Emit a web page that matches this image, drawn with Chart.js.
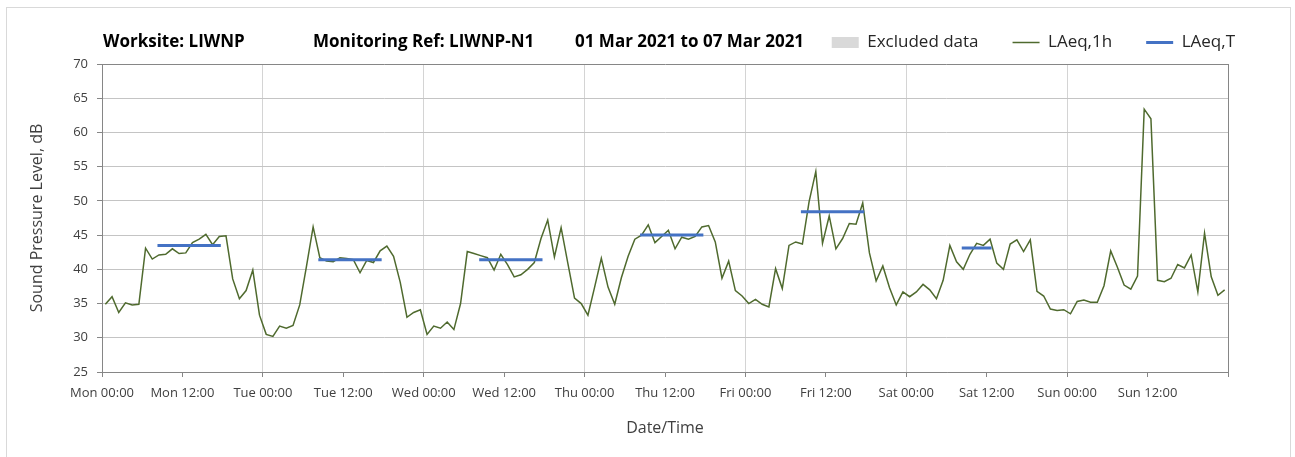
<!doctype html>
<html lang="en">
<head>
<meta charset="utf-8">
<title>LIWNP-N1 Sound Pressure Level</title>
<style>
  * { margin: 0; padding: 0; }
  body { background: #fff; font-family: "Open Sans", sans-serif; }
  .chartBox { position: relative; width: 1295px; height: 457px; overflow: hidden; }
  .frame { position: absolute; left: 6px; top: 7px; width: 1283px; height: 470px; border: 1px solid #d9d9d9; }
  .head { position: absolute; top: 30px; font-weight: bold; font-size: 17px; line-height: 22px; color: #000; white-space: nowrap; }
  canvas { position: absolute; left: 0; top: 0; }
</style>
</head>
<body>
<div class="chartBox">
  <div class="frame"></div>
  <canvas id="myChart" width="1295" height="457"></canvas>
  <div class="head" style="left:103px">Worksite: LIWNP</div>
  <div class="head" style="left:313px">Monitoring Ref: LIWNP-N1</div>
  <div class="head" style="left:575px">01 Mar 2021 to 07 Mar 2021</div>
</div>
<script src="https://cdn.jsdelivr.net/npm/chart.js/dist/chart.umd.min.js"></script>
<script>
// one week, hourly values starting Mon 00:00
const days = ['Mon', 'Tue', 'Wed', 'Thu', 'Fri', 'Sat', 'Sun'];

const laeq1h = [
  34.9, 36.0, 33.7, 35.1, 34.8, 34.9, 43.1, 41.5, 42.1, 42.2, 43.0, 42.3, 42.4, 43.9, 44.4, 45.1, 43.6, 44.8, 44.9, 38.6, 35.7, 36.9, 39.9, 33.3,
  30.5, 30.2, 31.7, 31.4, 31.8, 34.8, 40.4, 46.2, 41.7, 41.2, 41.1, 41.7, 41.6, 41.4, 39.5, 41.3, 41.0, 42.7, 43.4, 41.9, 38.1, 33.0, 33.7, 34.1,
  30.5, 31.7, 31.4, 32.3, 31.2, 35.0, 42.6, 42.3, 42.0, 41.7, 39.9, 42.2, 40.7, 38.9, 39.2, 40.0, 41.0, 44.5, 47.2, 41.8, 46.1, 40.9, 35.8, 35.0,
  33.3, 37.4, 41.6, 37.4, 34.9, 38.8, 41.9, 44.4, 45.0, 46.5, 43.9, 44.8, 45.7, 43.0, 44.7, 44.4, 44.8, 46.2, 46.4, 44.0, 38.7, 41.2, 36.9, 36.1,
  35.0, 35.6, 34.9, 34.5, 40.1, 37.2, 43.5, 44.0, 43.7, 49.9, 54.3, 43.8, 47.8, 43.0, 44.5, 46.7, 46.6, 49.7, 42.4, 38.3, 40.5, 37.3, 34.8, 36.7,
  36.0, 36.7, 37.8, 37.0, 35.7, 38.4, 43.5, 41.1, 40.0, 42.2, 43.8, 43.5, 44.4, 40.9, 40.0, 43.7, 44.3, 42.6, 44.3, 36.8, 36.1, 34.2, 34.0, 34.1,
  33.5, 35.3, 35.5, 35.2, 35.2, 37.6, 42.7, 40.3, 37.7, 37.1, 39.0, 63.4, 62.0, 38.4, 38.2, 38.7, 40.7, 40.2, 42.1, 36.7, 45.3, 38.9, 36.2, 37.0
];

// LAeq,T assessment periods
const periodDay = [0, 1, 2, 3, 4, 5];
const periodStart = [8, 8, 8, 8, 8, 8];
const periodEnd = [18, 18, 18, 18, 18, 13];
const laeqT = [43.5, 41.4, 41.4, 45.0, 48.4, 43.1];

const excluded = [];

// points sit in the middle of each hour slot
const hourlyPoints = laeq1h.map((v, i) => ({ x: i + 0.5, y: v }));

const periodPoints = [];
periodDay.forEach((d, i) => {
  periodPoints.push({ x: d * 24 + periodStart[i] + 0.5, y: laeqT[i] });
  periodPoints.push({ x: d * 24 + periodEnd[i] - 0.5, y: laeqT[i] });
  periodPoints.push({ x: d * 24 + periodEnd[i], y: null });
});

const axisGrey = '#868686';
const textGrey = '#404040';

// extra gap under the legend
const legendGap = {
  id: 'legendGap',
  beforeInit(chart) {
    const fit = chart.legend.fit;
    chart.legend.fit = function () {
      fit.bind(chart.legend)();
      this.height += 3;
    };
  }
};

const data = {
  datasets: [
    {
      label: 'Excluded data',
      data: excluded,
      legendStyle: 'rect',
      backgroundColor: '#d9d9d9',
      borderColor: '#d9d9d9',
      borderWidth: 0,
      order: 2
    },
    {
      label: 'LAeq,1h',
      data: hourlyPoints,
      legendStyle: 'line',
      borderColor: '#4f6a2e',
      backgroundColor: '#4f6a2e',
      borderWidth: 1.5,
      pointRadius: 0,
      tension: 0,
      order: 1
    },
    {
      label: 'LAeq,T',
      data: periodPoints,
      legendStyle: 'line',
      borderColor: '#4472c4',
      backgroundColor: '#4472c4',
      borderWidth: 3,
      borderCapStyle: 'square',
      pointRadius: 0,
      spanGaps: false,
      order: 0
    }
  ]
};

const config = {
  type: 'line',
  data,
  options: {
    responsive: false,
    animation: false,
    layout: { padding: { top: 0, left: 20, right: 26, bottom: 15 } },
    plugins: {
      tooltip: { enabled: false },
      legend: {
        position: 'top',
        align: 'end',
        labels: {
          usePointStyle: true,
          pointStyleWidth: 27,
          boxHeight: 11,
          padding: 34,
          color: '#262626',
          font: { family: '"Open Sans", sans-serif', size: 17 },
          generateLabels: chart => chart.data.datasets.map((ds, i) => ({
            text: ds.label,
            datasetIndex: i,
            pointStyle: ds.legendStyle,
            fillStyle: ds.backgroundColor,
            strokeStyle: ds.borderColor,
            lineWidth: ds.borderWidth,
            fontColor: '#262626',
            hidden: false
          }))
        }
      }
    },
    scales: {
      x: {
        type: 'linear',
        min: 0,
        max: 168,
        afterFit: s => { s.height = 70; },
        ticks: {
          stepSize: 12,
          autoSkip: false,
          maxRotation: 0,
          padding: 8,
          color: textGrey,
          font: { family: '"Open Sans", sans-serif', size: 13 },
          callback: v => v >= 168 ? '' : days[Math.floor(v / 24)] + ' ' + (v % 24 === 0 ? '00:00' : '12:00')
        },
        grid: {
          color: ctx => {
            const v = ctx.tick ? ctx.tick.value : 0;
            if (v === 168) return axisGrey;
            return v % 24 === 0 ? '#d4d4d4' : 'rgba(0,0,0,0)';
          },
          tickColor: axisGrey,
          tickLength: 5,
          lineWidth: 1
        },
        border: { color: axisGrey, width: 1 },
        title: {
          display: true,
          text: 'Date/Time',
          color: textGrey,
          padding: { top: 4, bottom: 4 },
          font: { family: '"Open Sans", sans-serif', size: 16 }
        }
      },
      y: {
        min: 25,
        max: 70,
        afterFit: s => { s.width = 82; },
        ticks: {
          stepSize: 5,
          padding: 9,
          color: textGrey,
          font: { family: '"Open Sans", sans-serif', size: 13 }
        },
        grid: {
          color: ctx => (ctx.tick && ctx.tick.value === 70) ? axisGrey : '#c4c4c4',
          tickColor: axisGrey,
          tickLength: 5,
          lineWidth: 1
        },
        border: { color: axisGrey, width: 1 },
        title: {
          display: true,
          text: 'Sound Pressure Level, dB',
          color: textGrey,
          padding: { top: 8, bottom: 4 },
          font: { family: '"Open Sans", sans-serif', size: 16 }
        }
      },
      yRight: {
        position: 'right',
        display: true,
        afterFit: s => { s.width = 41; },
        grid: { display: false },
        ticks: { display: false },
        border: { display: false }
      }
    }
  },
  plugins: [legendGap]
};

const myChart = new Chart(document.getElementById('myChart'), config);
</script>
</body>
</html>
